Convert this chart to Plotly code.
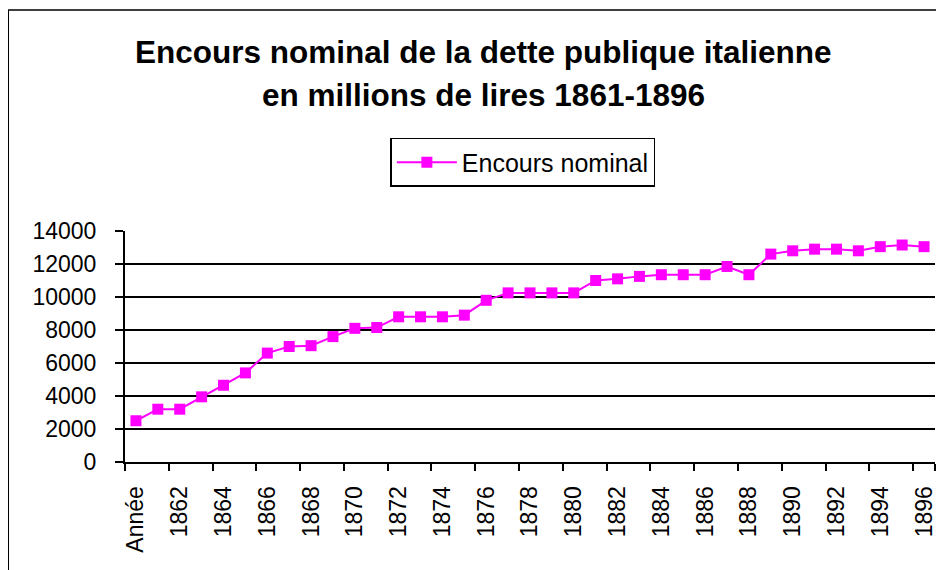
import plotly.graph_objects as go

# categories as on the original sheet (first row label is the column header)
annees = ['Année'] + [str(a) for a in range(1861, 1897)]

# encours nominal, millions de lires
encours = [2500, 3200, 3200, 3950, 4650, 5400, 6600, 7000, 7050, 7600,
           8100, 8150, 8800, 8800, 8800, 8900, 9800, 10250, 10250, 10250,
           10250, 11000, 11100, 11250, 11350, 11350, 11350, 11850, 11350, 12600,
           12800, 12900, 12900, 12800, 13050, 13150, 13050]

# label every other year
labels_x = annees[::2]

y_ticks = list(range(0, 14001, 2000))

FONT = 'Arial, "Liberation Sans", sans-serif'

fig = go.Figure()

fig.add_trace(go.Scatter(
    x=annees,
    y=encours,
    mode='lines+markers',
    name='Encours nominal',
    line=dict(color='#ff00ff', width=2),
    marker=dict(symbol='square', size=11, color='#ff00ff'),
))

# the page body has an 8px margin, so the figure is 8px smaller
fig.update_layout(
    width=936,
    height=562,
    margin=dict(l=117, r=7, t=223, b=108),
    paper_bgcolor='white',
    plot_bgcolor='white',
    font=dict(family=FONT, color='black', size=23),
    showlegend=True,
    legend=dict(
        x=0.3276, y=1.4026, xanchor='left', yanchor='top',
        bordercolor='black', borderwidth=1.5,
        font=dict(size=25, family=FONT),
        itemwidth=60,
        bgcolor='white',
    ),
)

# two-line title, placed like in the original
fig.add_annotation(
    text='<b>Encours nominal de la dette publique italienne</b>',
    xref='paper', yref='paper', x=0.442, y=1.777,
    showarrow=False, font=dict(size=31.5, family=FONT),
    xanchor='center', yanchor='middle',
)
fig.add_annotation(
    text='<b>en millions de lires 1861-1896</b>',
    xref='paper', yref='paper', x=0.442, y=1.589,
    showarrow=False, font=dict(size=31.5, family=FONT),
    xanchor='center', yanchor='middle',
)

# chart area frame (cut by the picture on right and bottom)
fig.add_shape(
    type='rect', xref='paper', yref='paper',
    x0=-0.1441, x1=1.03, y0=-0.55, y1=1.957,
    line=dict(color='black', width=1.5), layer='below',
)

fig.update_xaxes(
    type='category',
    tickvals=labels_x,
    ticktext=labels_x,
    tickangle=-90,
    ticks='outside',
    tickson='boundaries',
    ticklen=7,
    tickwidth=2,
    tickcolor='black',
    showline=True,
    linecolor='black',
    linewidth=2,
    showgrid=False,
    range=[-0.5, len(annees) - 0.5],
    ticklabelstandoff=13,
    tickfont=dict(size=23),
)

fig.update_yaxes(
    range=[0, 14000],
    tickvals=y_ticks,
    tickformat='d',
    ticks='outside',
    ticklen=8,
    tickwidth=2,
    tickcolor='black',
    showline=True,
    linecolor='black',
    linewidth=2,
    showgrid=True,
    gridcolor='black',
    gridwidth=1.5,
    zeroline=False,
    ticklabelstandoff=14,
    tickfont=dict(size=23),
)

fig.write_html('out.html')
